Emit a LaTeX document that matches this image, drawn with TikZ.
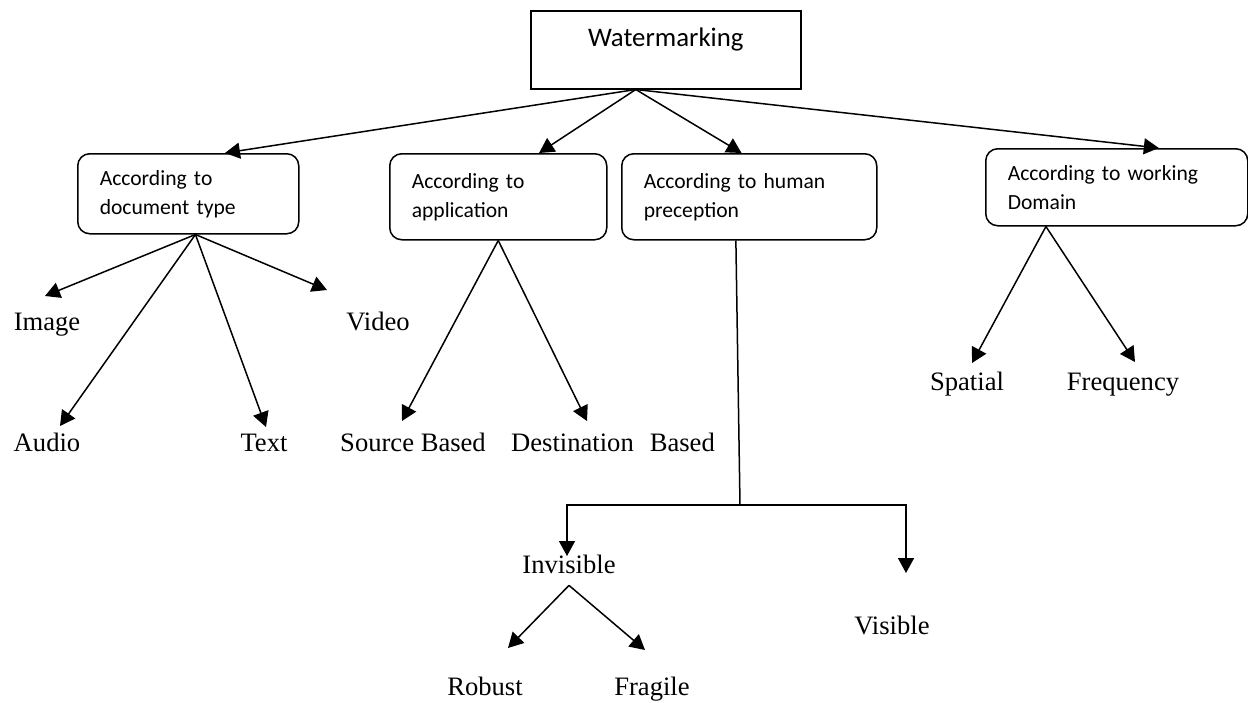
\documentclass[tikz,border=0pt]{standalone}
\usepackage{fontspec}
\setmainfont{Liberation Serif}
\newfontfamily\calfont{Carlito}
\usetikzlibrary{arrows.meta}
\tikzstyle{rootbox}=[draw,line width=0.75pt,anchor=north west,minimum width=135pt,inner ysep=8pt,text height=10pt,text depth=13pt,font=\calfont\fontsize{13.4}{15}\selectfont]
\tikzstyle{catbox}=[draw,rounded corners=6pt,line width=0.75pt,anchor=north west,align=left,inner xsep=11pt,font=\calfont\fontsize{10.8}{14.5}\selectfont]
\tikzstyle{leaf}=[anchor=base,inner sep=3pt,text height=9.5pt,text depth=3pt,font=\fontsize{13.3}{16}\selectfont]
\tikzstyle{arr}=[-{Triangle[length=7.5pt,width=8pt]},line width=0.75pt]

\begin{document}
\begin{tikzpicture}[x=0.5pt,y=-0.5pt]
    \useasboundingbox (0,0) rectangle (1248,702);
    \node[rootbox] (wm) at (530,10) {Watermarking};
    \node[catbox,text width=88.5pt,minimum height=40pt] (doc) at (77,153) {According to\\document type};
    \node[catbox,text width=86.5pt,minimum height=43pt] (app) at (389,153) {According to\\application};
    \node[catbox,text width=105.5pt,minimum height=43pt] (hum) at (621,153) {According to human\\preception};
    \node[catbox,text width=109pt,minimum height=38.5pt] (dom) at (985,148) {According to working\\Domain};

    \node[leaf] (img) at (47,330) {Image};
    \node[leaf] (vid) at (378,330) {Video};
    \node[leaf] (aud) at (47,451) {Audio};
    \node[leaf] (txt) at (264,451) {Text};
    \node[leaf] (src) at (413,451) {Source Based};
    \node[leaf] (dst) at (613,451) {Destination\hspace{8pt}Based};
    \node[leaf] (spa) at (967,390) {Spatial};
    \node[leaf] (fre) at (1123,390) {Frequency};
    \node[leaf] (inv) at (569,573) {Invisible};
    \node[leaf] (vis) at (892,634) {Visible};
    \node[leaf] (rob) at (485,695) {Robust};
    \node[leaf] (fra) at (652,695) {Fragile};

    \coordinate (imgtip) at (45,296);
    \coordinate (audtip) at (60,426);
    \coordinate (txttip) at (266,427);
    \coordinate (vidtip) at (327,290);
    \coordinate (srctip) at (402,421);
    \coordinate (dsttip) at (587,421);
    \coordinate (spatip) at (972,363);
    \coordinate (fretip) at (1135,362);
    \coordinate (split) at (740,505);
    \coordinate (invtip) at (567,556);
    \coordinate (vistip) at (906,573);
    \coordinate (robtip) at (508,648);
    \coordinate (fratip) at (645,650);

    \foreach \from/\to in {wm.233/doc.48,wm.233/app.47,wm.233/hum.100,wm.233/dom.43,doc.280/imgtip,doc.280/audtip,doc.280/txttip,doc.280/vidtip,app.south/srctip,app.south/dsttip,dom.209/spatip,dom.209/fretip,inv.south/robtip,inv.south/fratip}
    \draw[arr] (\from) -- (\to);
    \draw[line width=0.75pt] (hum.253) -- (split);
    \draw[arr] (split) -| (invtip);
    \draw[arr] (split) -| (vistip);
\end{tikzpicture}
\end{document}
